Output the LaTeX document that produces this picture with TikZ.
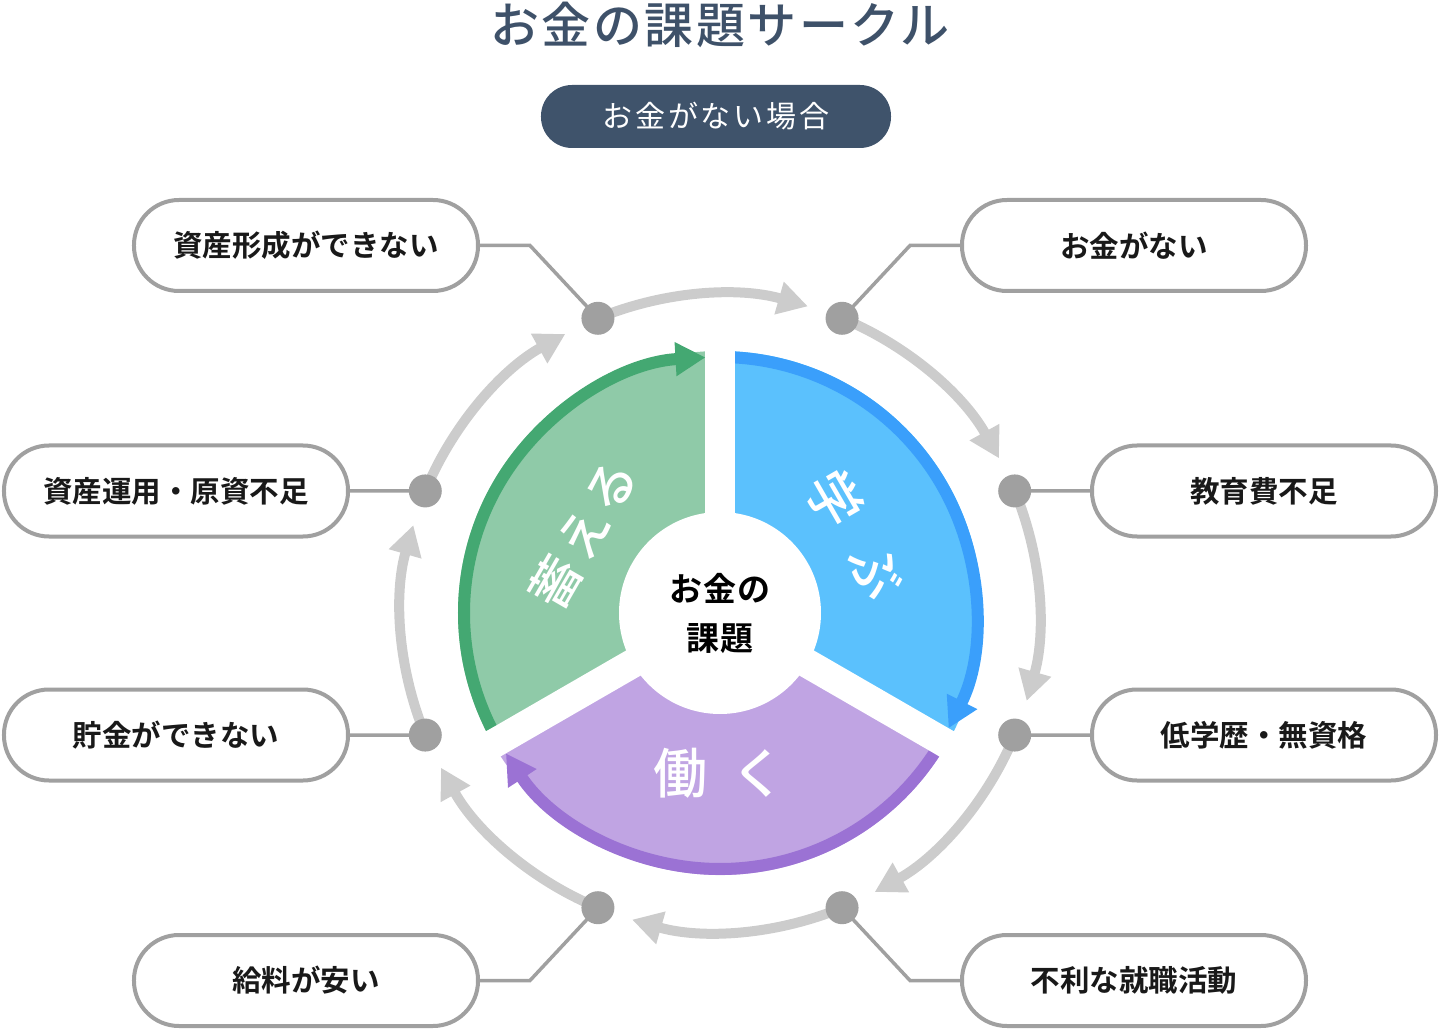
\documentclass[tikz,border=0pt]{standalone}
\usepackage{fontspec}
\setmainfont{Noto Sans CJK JP}[BoldFont={Noto Sans CJK JP Bold}]
\newfontfamily\medfont{Noto Sans CJK JP Medium}
\usetikzlibrary{arrows.meta,positioning,calc,backgrounds}
\definecolor{navy}{HTML}{3F536B}
\definecolor{titleblue}{HTML}{3E5169}
\definecolor{linegray}{HTML}{A0A0A0}
\definecolor{ringgray}{HTML}{CCCCCC}
\definecolor{savefill}{HTML}{8FCAA8}
\definecolor{saveline}{HTML}{44A872}
\definecolor{learnfill}{HTML}{5BC1FD}
\definecolor{learnline}{HTML}{3A9FFB}
\definecolor{workfill}{HTML}{C0A4E3}
\definecolor{workline}{HTML}{9B72D4}
\tikzset{
  pill/.style={rectangle, rounded corners=45pt, draw=linegray, line width=4pt, fill=white,
               minimum width=344pt, minimum height=91pt, inner sep=0pt, align=center,
               font=\bfseries\fontsize{29.5}{32}\selectfont, text=black!90},
  hub/.style={circle, fill=linegray, minimum size=33pt, inner sep=0pt},
  lead/.style={draw=linegray, line width=3.5pt},
  ring/.style={draw=ringgray, line width=10pt, -{Triangle[length=30pt, width=32pt]}},
  rim/.style={line width=12pt, -{Triangle[length=30pt, width=32pt]}},
  cut/.style={draw=white, line width=29pt},
  seclbl/.style={text=white, font=\medfont\fontsize{54}{58}\selectfont, inner sep=0pt},
}

\begin{document}
\begin{tikzpicture}[x=1pt, y=1pt]
  \useasboundingbox (-720,-415) rectangle (720,613);

  % ============ heading ============
  \node[font=\medfont\fontsize{49}{52}\selectfont\addfontfeatures{LetterSpace=5}, text=titleblue]
    (title) at (0,588) {お金の課題サークル};
  \node[fill=navy, rounded corners=31pt, minimum width=350pt, minimum height=63pt, inner sep=0pt,
        text=white, font=\fontsize{30}{32}\selectfont\addfontfeatures{LetterSpace=9}]
    (case) at (-4,496.5) {お金がない場合};

  % ============ the three sectors ============
  \fill[savefill] (0,0) -- (90:262) arc[start angle=90, end angle=210, radius=262] -- cycle;
  \fill[learnfill] (0,0) -- (90:262) arc[start angle=90, end angle=-30, radius=262] -- cycle;
  \fill[workfill] (0,0) -- (210:262) arc[start angle=210, end angle=330, radius=262] -- cycle;

  \draw[rim, saveline] (206.75:256) arc[start angle=206.75, end angle=93.25, radius=256];
  \draw[rim, learnline] (86.75:256) arc[start angle=86.75, end angle=-26.75, radius=256];
  \draw[rim, workline] (-33.25:256) arc[start angle=-33.25, end angle=-146.75, radius=256];

  % the gaps between them
  \draw[cut] (0,0) -- (90:290);
  \draw[cut] (0,0) -- (210:290);
  \draw[cut] (0,0) -- (330:290);
  \fill[white] (0,0) circle[radius=101];

  \node[font=\bfseries\fontsize{33}{49}\selectfont\addfontfeatures{LetterSpace=3}, align=center]
    (core) at (0,-1) {お金の\\課題};
  \node[seclbl, rotate=60, font=\medfont\fontsize{50}{54}\selectfont\addfontfeatures{LetterSpace=12}]
    (save) at (150:158) {蓄える};
  \node[seclbl, rotate=-60] (learn) at (30:157) {学\hspace{30pt}ぶ};
  \node[seclbl] (work) at (270:160) {働\hspace{24pt}く};

  % ============ outer cycle ============
  \node[hub] (h1) at (67.5:319) {};
  \node[hub] (h2) at (22.5:319) {};
  \node[hub] (h3) at (-22.5:319) {};
  \node[hub] (h4) at (-67.5:319) {};
  \node[hub] (h5) at (-112.5:319) {};
  \node[hub] (h6) at (-157.5:319) {};
  \node[hub] (h7) at (157.5:319) {};
  \node[hub] (h8) at (112.5:319) {};

  \begin{scope}[on background layer]
    \draw[ring] (h8.center) arc[start angle=112.5, end angle=74, radius=319];
    \draw[ring] (h1.center) arc[start angle=67.5, end angle=29, radius=319];
    \draw[ring] (h2.center) arc[start angle=22.5, end angle=-16, radius=319];
    \draw[ring] (h3.center) arc[start angle=-22.5, end angle=-61, radius=319];
    \draw[ring] (h4.center) arc[start angle=-67.5, end angle=-106, radius=319];
    \draw[ring] (h5.center) arc[start angle=-112.5, end angle=-151, radius=319];
    \draw[ring] (h6.center) arc[start angle=-157.5, end angle=-196, radius=319];
    \draw[ring] (h7.center) arc[start angle=157.5, end angle=119, radius=319];
  \end{scope}

  % ============ the eight problems ============
  \node[pill] (c1) at (414,367.5) {お金がない};
  \node[pill] (c2) at (544,122) {教育費不足};
  \node[pill] (c3) at (544,-122) {低学歴・無資格};
  \node[pill] (c4) at (414,-367.5) {不利な就職活動};
  \node[pill] (c5) at (-414,-367.5) {給料が安い};
  \node[pill] (c6) at (-544,-122) {貯金ができない};
  \node[pill] (c7) at (-544,122) {資産運用・原資不足};
  \node[pill] (c8) at (-414,367.5) {資産形成ができない};

  \begin{scope}[on background layer]
    \draw[lead] (h1.center) -- ($(c1.west)+(-50,0)$) -- (c1.west);
    \draw[lead] (h2.center) -- (c2.west);
    \draw[lead] (h3.center) -- (c3.west);
    \draw[lead] (h4.center) -- ($(c4.west)+(-50,0)$) -- (c4.west);
    \draw[lead] (h5.center) -- ($(c5.east)+(50,0)$) -- (c5.east);
    \draw[lead] (h6.center) -- (c6.east);
    \draw[lead] (h7.center) -- (c7.east);
    \draw[lead] (h8.center) -- ($(c8.east)+(50,0)$) -- (c8.east);
  \end{scope}

\end{tikzpicture}
\end{document}
